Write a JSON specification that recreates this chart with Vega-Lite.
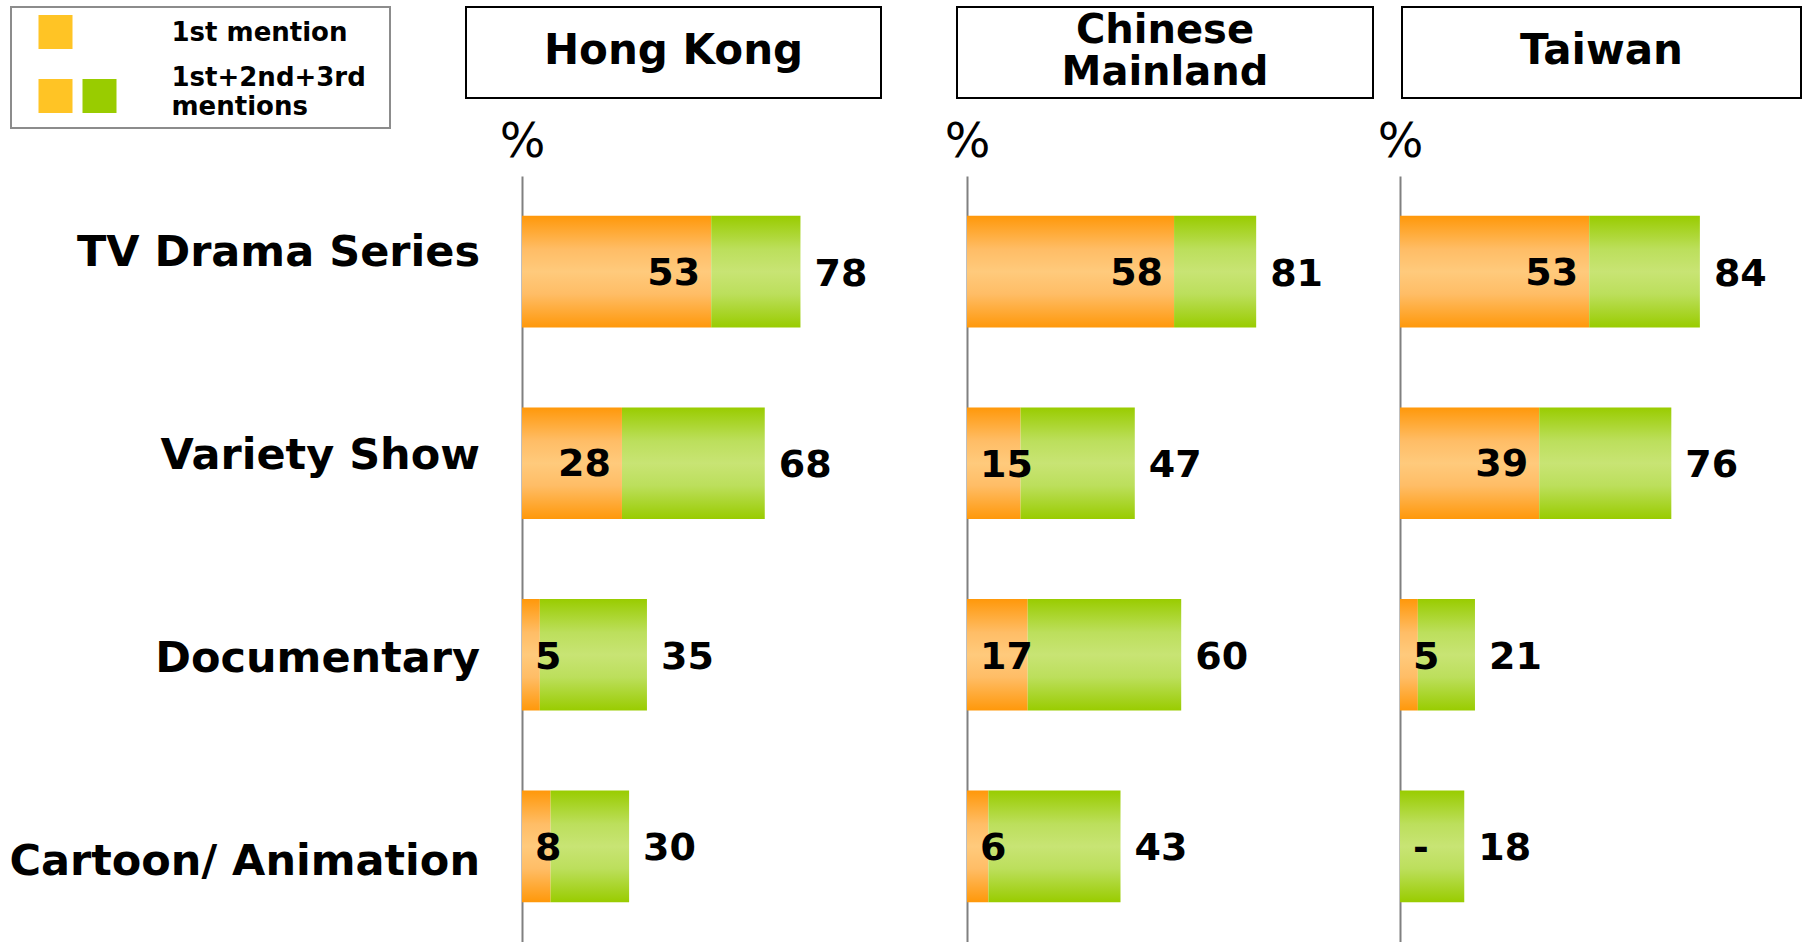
{
  "$schema": "https://vega.github.io/schema/vega-lite/v6.json",
  "background": "white",
  "padding": {"left": 1, "top": 6, "right": 0, "bottom": 0},
  "bounds": "flush",
  "spacing": 110,
  "config": {"view": {"stroke": null}, "font": "DejaVu Sans", "text": {"color": "black"}},
  "datasets": {
    "mentions": [
      {"region": "Hong Kong", "category": "TV Drama Series", "first": 53, "total": 78},
      {"region": "Hong Kong", "category": "Variety Show", "first": 28, "total": 68},
      {"region": "Hong Kong", "category": "Documentary", "first": 5, "total": 35},
      {"region": "Hong Kong", "category": "Cartoon/ Animation", "first": 8, "total": 30},
      {"region": "Chinese Mainland", "category": "TV Drama Series", "first": 58, "total": 81},
      {"region": "Chinese Mainland", "category": "Variety Show", "first": 15, "total": 47},
      {"region": "Chinese Mainland", "category": "Documentary", "first": 17, "total": 60},
      {"region": "Chinese Mainland", "category": "Cartoon/ Animation", "first": 6, "total": 43},
      {"region": "Taiwan", "category": "TV Drama Series", "first": 53, "total": 84},
      {"region": "Taiwan", "category": "Variety Show", "first": 39, "total": 76},
      {"region": "Taiwan", "category": "Documentary", "first": 5, "total": 21},
      {"region": "Taiwan", "category": "Cartoon/ Animation", "first": 0, "total": 18}
    ]
  },
  "vconcat": [
    {
      "bounds": "full",
      "spacing": 8,
      "hconcat": [
        {"width": 1, "height": 1, "data": {"values": [{}]}, "mark": {"type": "rect", "opacity": 0}},
        {
          "bounds": "full",
          "spacing": 74,
          "hconcat": [
            {
              "width": 379, "height": 121,
              "view": {"stroke": "#8c8c8c", "strokeWidth": 2},
              "data": {"values": [
                {"item": "1st mention", "part": "1st", "label": ""},
                {"item": "1st+2nd+3rd mentions", "part": "1st", "label": ""},
                {"item": "1st+2nd+3rd mentions", "part": "2nd+3rd", "label": ""},
                {"item": "1st mention", "part": "label", "label": "1st mention"},
                {"item": "1st+2nd+3rd mentions", "part": "label", "label": "1st+2nd+3rd\nmentions"}
              ]},
              "encoding": {
                "y": {"field": "item", "type": "nominal", "scale": {"type": "point", "padding": 0, "domain": ["1st mention", "1st+2nd+3rd mentions"], "range": [25, 89]}, "axis": null}
              },
              "layer": [
                {
                  "transform": [{"filter": "datum.part !== 'label'"}],
                  "mark": {"type": "square", "size": 1156, "opacity": 1, "filled": true},
                  "encoding": {
                    "x": {"field": "part", "type": "nominal", "scale": {"type": "point", "padding": 0, "domain": ["1st", "2nd+3rd"], "range": [44.5, 88.5]}, "axis": null},
                    "color": {"field": "part", "type": "nominal", "scale": {"domain": ["1st", "2nd+3rd"], "range": ["#FFC425", "#99CC00"]}, "legend": null}
                  }
                },
                {
                  "transform": [{"filter": "datum.part === 'label' && datum.item === '1st mention'"}],
                  "mark": {"type": "text", "align": "left", "baseline": "middle", "dx": 72, "dy": 1, "fontSize": 26, "fontWeight": "bold"},
                  "encoding": {"x": {"datum": "2nd+3rd", "type": "nominal"}, "text": {"field": "label"}}
                },
                {
                  "transform": [{"filter": "datum.part === 'label' && datum.item !== '1st mention'"}],
                  "mark": {"type": "text", "align": "left", "baseline": "middle", "dx": 72, "dy": -18, "lineBreak": "\n", "lineHeight": 29, "fontSize": 26, "fontWeight": "bold"},
                  "encoding": {"x": {"datum": "2nd+3rd", "type": "nominal"}, "text": {"field": "label"}}
                }
              ]
            },
            {
              "width": 415, "height": 91,
              "view": {"stroke": "black", "strokeWidth": 2},
              "data": {"values": [{"region": "Hong Kong"}]},
              "mark": {"type": "text", "baseline": "middle", "dy": -2, "fontSize": 42, "fontWeight": "bold"},
              "encoding": {"text": {"field": "region"}}
            },
            {
              "bounds": "full",
              "spacing": 27,
              "hconcat": [
                {
                  "width": 416, "height": 91,
                  "view": {"stroke": "black", "strokeWidth": 2},
                  "data": {"values": [{"region": "Chinese Mainland"}]},
                  "mark": {"type": "text", "baseline": "middle", "dy": -22, "fontSize": 40, "fontWeight": "bold", "lineBreak": " ", "lineHeight": 42},
                  "encoding": {"text": {"field": "region"}}
                },
                {
                  "width": 399, "height": 91,
                  "view": {"stroke": "black", "strokeWidth": 2},
                  "data": {"values": [{"region": "Taiwan"}]},
                  "mark": {"type": "text", "baseline": "middle", "dy": -2, "fontSize": 42, "fontWeight": "bold"},
                  "encoding": {"text": {"field": "region"}}
                }
              ]
            }
          ]
        }
      ]
    },
    {
      "bounds": "full",
      "spacing": 0,
      "hconcat": [
        {
          "width": 498, "height": 825,
          "data": {"name": "mentions"},
          "transform": [{"filter": "datum.region === 'Hong Kong'"}],
          "mark": {"type": "text", "align": "right", "baseline": "middle", "dx": -19, "fontSize": 43, "fontWeight": "bold"},
          "encoding": {
            "x": {"value": "width"},
            "y": {"field": "category", "type": "nominal", "sort": ["TV Drama Series", "Variety Show", "Documentary", "Cartoon/ Animation"], "scale": {"type": "point", "padding": 0, "range": [136, 745]}, "axis": null},
            "text": {"field": "category"}
          }
        },
        {
          "width": 422, "height": 825,
          "data": {"name": "mentions"},
          "transform": [{"filter": "datum.region === 'Hong Kong'"}],
          "encoding": {
            "y": {"field": "category", "type": "nominal", "sort": ["TV Drama Series", "Variety Show", "Documentary", "Cartoon/ Animation"], "scale": {"paddingInner": 0.417, "paddingOuter": 0.208, "range": [59, 825]},
              "axis": {"labels": false, "ticks": false, "grid": false, "domain": true, "domainColor": "#808080", "domainWidth": 2, "title": "%", "titleAngle": 0, "titleAlign": "center", "titleBaseline": "alphabetic", "titleX": 0, "titleY": 39, "titleFontSize": 48, "titleFontWeight": "normal", "titleColor": "black"}}
          },
          "layer": [
            {"mark": {"type": "bar", "color": {"gradient": "linear", "x1": 0, "y1": 0, "x2": 0, "y2": 1, "stops": [{"offset": 0, "color": "#FF980A"}, {"offset": 0.3, "color": "#FFBD66"}, {"offset": 0.5, "color": "#FFCA7C"}, {"offset": 0.7, "color": "#FFBD66"}, {"offset": 1, "color": "#FF980A"}]}},
              "encoding": {"x": {"field": "first", "type": "quantitative", "scale": {"domain": [0, 100], "range": [0, 357]}, "axis": null}}},
            {"mark": {"type": "bar", "color": {"gradient": "linear", "x1": 0, "y1": 0, "x2": 0, "y2": 1, "stops": [{"offset": 0, "color": "#99CC00"}, {"offset": 0.3, "color": "#BCDF5C"}, {"offset": 0.5, "color": "#C8E474"}, {"offset": 0.7, "color": "#BCDF5C"}, {"offset": 1, "color": "#99CC00"}]}},
              "encoding": {"x": {"field": "first", "type": "quantitative"}, "x2": {"field": "total"}}},
            {"mark": {"type": "text", "align": "left", "baseline": "middle", "dx": 14, "dy": 3, "fontSize": 38, "fontWeight": "bold"},
              "encoding": {"x": {"field": "total", "type": "quantitative"}, "text": {"field": "total", "type": "quantitative"}}},
            {"transform": [{"filter": "datum.first >= 20"}],
              "mark": {"type": "text", "align": "right", "baseline": "middle", "dx": -11, "dy": 2, "fontSize": 38, "fontWeight": "bold"},
              "encoding": {"x": {"field": "first", "type": "quantitative"}, "text": {"field": "first", "type": "quantitative"}}},
            {"transform": [{"filter": "datum.first < 20"}],
              "mark": {"type": "text", "align": "left", "baseline": "middle", "dx": 13, "dy": 3, "fontSize": 38, "fontWeight": "bold"},
              "encoding": {"x": {"datum": 0, "type": "quantitative"}, "text": {"condition": {"test": "datum.first === 0", "value": "-"}, "field": "first", "type": "quantitative"}}}
          ]
        },
        {
          "width": 410, "height": 825,
          "data": {"name": "mentions"},
          "transform": [{"filter": "datum.region === 'Chinese Mainland'"}],
          "encoding": {
            "y": {"field": "category", "type": "nominal", "sort": ["TV Drama Series", "Variety Show", "Documentary", "Cartoon/ Animation"], "scale": {"paddingInner": 0.417, "paddingOuter": 0.208, "range": [59, 825]},
              "axis": {"labels": false, "ticks": false, "grid": false, "domain": true, "domainColor": "#808080", "domainWidth": 2, "title": "%", "titleAngle": 0, "titleAlign": "center", "titleBaseline": "alphabetic", "titleX": 0, "titleY": 39, "titleFontSize": 48, "titleFontWeight": "normal", "titleColor": "black"}}
          },
          "layer": [
            {"mark": {"type": "bar", "color": {"gradient": "linear", "x1": 0, "y1": 0, "x2": 0, "y2": 1, "stops": [{"offset": 0, "color": "#FF980A"}, {"offset": 0.3, "color": "#FFBD66"}, {"offset": 0.5, "color": "#FFCA7C"}, {"offset": 0.7, "color": "#FFBD66"}, {"offset": 1, "color": "#FF980A"}]}},
              "encoding": {"x": {"field": "first", "type": "quantitative", "scale": {"domain": [0, 100], "range": [0, 357]}, "axis": null}}},
            {"mark": {"type": "bar", "color": {"gradient": "linear", "x1": 0, "y1": 0, "x2": 0, "y2": 1, "stops": [{"offset": 0, "color": "#99CC00"}, {"offset": 0.3, "color": "#BCDF5C"}, {"offset": 0.5, "color": "#C8E474"}, {"offset": 0.7, "color": "#BCDF5C"}, {"offset": 1, "color": "#99CC00"}]}},
              "encoding": {"x": {"field": "first", "type": "quantitative"}, "x2": {"field": "total"}}},
            {"mark": {"type": "text", "align": "left", "baseline": "middle", "dx": 14, "dy": 3, "fontSize": 38, "fontWeight": "bold"},
              "encoding": {"x": {"field": "total", "type": "quantitative"}, "text": {"field": "total", "type": "quantitative"}}},
            {"transform": [{"filter": "datum.first >= 20"}],
              "mark": {"type": "text", "align": "right", "baseline": "middle", "dx": -11, "dy": 2, "fontSize": 38, "fontWeight": "bold"},
              "encoding": {"x": {"field": "first", "type": "quantitative"}, "text": {"field": "first", "type": "quantitative"}}},
            {"transform": [{"filter": "datum.first < 20"}],
              "mark": {"type": "text", "align": "left", "baseline": "middle", "dx": 13, "dy": 3, "fontSize": 38, "fontWeight": "bold"},
              "encoding": {"x": {"datum": 0, "type": "quantitative"}, "text": {"condition": {"test": "datum.first === 0", "value": "-"}, "field": "first", "type": "quantitative"}}}
          ]
        },
        {
          "width": 400, "height": 825,
          "data": {"name": "mentions"},
          "transform": [{"filter": "datum.region === 'Taiwan'"}],
          "encoding": {
            "y": {"field": "category", "type": "nominal", "sort": ["TV Drama Series", "Variety Show", "Documentary", "Cartoon/ Animation"], "scale": {"paddingInner": 0.417, "paddingOuter": 0.208, "range": [59, 825]},
              "axis": {"labels": false, "ticks": false, "grid": false, "domain": true, "domainColor": "#808080", "domainWidth": 2, "title": "%", "titleAngle": 0, "titleAlign": "center", "titleBaseline": "alphabetic", "titleX": 0, "titleY": 39, "titleFontSize": 48, "titleFontWeight": "normal", "titleColor": "black"}}
          },
          "layer": [
            {"mark": {"type": "bar", "color": {"gradient": "linear", "x1": 0, "y1": 0, "x2": 0, "y2": 1, "stops": [{"offset": 0, "color": "#FF980A"}, {"offset": 0.3, "color": "#FFBD66"}, {"offset": 0.5, "color": "#FFCA7C"}, {"offset": 0.7, "color": "#FFBD66"}, {"offset": 1, "color": "#FF980A"}]}},
              "encoding": {"x": {"field": "first", "type": "quantitative", "scale": {"domain": [0, 100], "range": [0, 357]}, "axis": null}}},
            {"mark": {"type": "bar", "color": {"gradient": "linear", "x1": 0, "y1": 0, "x2": 0, "y2": 1, "stops": [{"offset": 0, "color": "#99CC00"}, {"offset": 0.3, "color": "#BCDF5C"}, {"offset": 0.5, "color": "#C8E474"}, {"offset": 0.7, "color": "#BCDF5C"}, {"offset": 1, "color": "#99CC00"}]}},
              "encoding": {"x": {"field": "first", "type": "quantitative"}, "x2": {"field": "total"}}},
            {"mark": {"type": "text", "align": "left", "baseline": "middle", "dx": 14, "dy": 3, "fontSize": 38, "fontWeight": "bold"},
              "encoding": {"x": {"field": "total", "type": "quantitative"}, "text": {"field": "total", "type": "quantitative"}}},
            {"transform": [{"filter": "datum.first >= 20"}],
              "mark": {"type": "text", "align": "right", "baseline": "middle", "dx": -11, "dy": 2, "fontSize": 38, "fontWeight": "bold"},
              "encoding": {"x": {"field": "first", "type": "quantitative"}, "text": {"field": "first", "type": "quantitative"}}},
            {"transform": [{"filter": "datum.first < 20"}],
              "mark": {"type": "text", "align": "left", "baseline": "middle", "dx": 13, "dy": 3, "fontSize": 38, "fontWeight": "bold"},
              "encoding": {"x": {"datum": 0, "type": "quantitative"}, "text": {"condition": {"test": "datum.first === 0", "value": "-"}, "field": "first", "type": "quantitative"}}}
          ]
        }
      ]
    }
  ]
}
